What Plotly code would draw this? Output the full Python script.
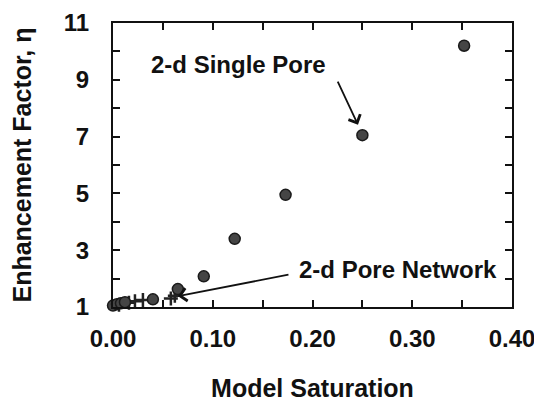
import plotly.graph_objects as go

# Data
single_pore_sat = [0.000, 0.004, 0.008, 0.012, 0.040, 0.065, 0.091, 0.122, 0.173, 0.250, 0.352]
single_pore_eta = [1.05, 1.10, 1.13, 1.17, 1.27, 1.63, 2.08, 3.40, 4.95, 7.05, 10.20]

network_sat = [0.006, 0.016, 0.022, 0.030, 0.058, 0.062]
network_eta = [1.08, 1.15, 1.20, 1.25, 1.30, 1.40]

x_tickvals = [0.0, 0.05, 0.10, 0.15, 0.20, 0.25, 0.30, 0.35, 0.40]
x_ticktext = ["0.00", "", "0.10", "", "0.20", "", "0.30", "", "0.40"]
y_tickvals = [1, 2, 3, 4, 5, 6, 7, 8, 9, 10, 11]
y_ticktext = ["1", "", "3", "", "5", "", "7", "", "9", "", "11"]

FONT = "Liberation Sans, Arial, sans-serif"

fig = go.Figure()
fig.add_trace(go.Scatter(
    x=network_sat, y=network_eta, mode="markers",
    marker=dict(symbol="cross-thin", size=10, line=dict(color="#222", width=2.5)),
    cliponaxis=False, showlegend=False))
fig.add_trace(go.Scatter(
    x=single_pore_sat, y=single_pore_eta, mode="markers",
    marker=dict(symbol="circle", size=11, color="#454545", line=dict(color="#1a1a1a", width=1.5)),
    cliponaxis=False, showlegend=False))

fig.add_annotation(x=0.2456, y=7.42, ax=0.2246, ay=8.99, xref="x", yref="y", axref="x", ayref="y",
                   showarrow=True, arrowhead=4, arrowsize=1.4, arrowwidth=1.8, arrowcolor="#111", text="")
fig.add_annotation(x=0.0652, y=1.38, ax=0.1774, ay=2.15, xref="x", yref="y", axref="x", ayref="y",
                   showarrow=True, arrowhead=4, arrowsize=1.4, arrowwidth=1.8, arrowcolor="#111", text="")
fig.add_annotation(x=0.1263, y=9.54, xref="x", yref="y", showarrow=False,
                   text="<b>2-d Single Pore</b>", font=dict(family=FONT, size=24, color="#111"))
fig.add_annotation(x=0.2857, y=2.32, xref="x", yref="y", showarrow=False,
                   text="<b>2-d Pore Network</b>", font=dict(family=FONT, size=24, color="#111"))

axis_common = dict(showgrid=False, zeroline=False, showline=True, linecolor="#111", linewidth=2,
                   mirror="ticks", ticks="inside", ticklen=7, tickwidth=1.5, tickcolor="#111",
                   automargin=False, ticklabeloverflow="allow",
                   tickfont=dict(family=FONT, size=24, color="#111", weight="bold"))

fig.update_xaxes(range=[0, 0.40], tickvals=x_tickvals, ticktext=x_ticktext, ticklabelstandoff=9,
                 title=dict(text="<b>Model Saturation</b>", font=dict(family=FONT, size=25, color="#111"), standoff=30),
                 **axis_common)
fig.update_yaxes(range=[1, 11], tickvals=y_tickvals, ticktext=y_ticktext, ticklabelstandoff=17,
                 title=dict(text="<b>Enhancement Factor, η</b>", font=dict(family=FONT, size=25, color="#111"), standoff=37),
                 **axis_common)

# page body adds an 8px offset, so the figure is sized to fit the visible window
fig.update_layout(width=534, height=394, margin=dict(l=105, r=30, t=15, b=95),
                  plot_bgcolor="white", paper_bgcolor="white")

fig.write_html("out.html")
